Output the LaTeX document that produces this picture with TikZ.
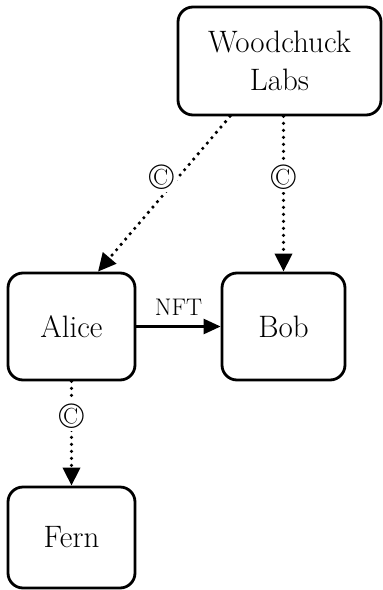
\documentclass[tikz,border=0pt]{standalone}
\usetikzlibrary{arrows.meta,calc}
\begin{document}
\begin{tikzpicture}[x=1pt,y=-1pt,
  box/.style={draw, line width=2.8pt, rounded corners=15pt, align=center,
    font=\fontsize{31}{38}\selectfont, inner sep=0pt},
  dotarrow/.style={line width=3.6pt, line cap=round, dash pattern=on 0pt off 7pt,
    -{Triangle[length=18pt,width=17pt]}},
  solidarrow/.style={line width=2.6pt, -{Triangle[length=17pt,width=15pt]}},
  clab/.style={fill=white, inner sep=3pt, font=\fontsize{36}{36}\selectfont},
  nlab/.style={font=\fontsize{24}{24}\selectfont, inner sep=1pt}]
\useasboundingbox (0,0) rectangle (383,590);
\node[box, minimum width=203pt, minimum height=108pt] (wl) at (279.5,61) {Woodchuck\\Labs};
\node[box, minimum width=127pt, minimum height=107pt] (alice) at (71.5,326.5) {Alice};
\node[box, minimum width=123pt, minimum height=107pt] (bob) at (283.5,326.5) {Bob};
\node[box, minimum width=127pt, minimum height=101pt] (fern) at (71.5,537.5) {Fern};
\draw[dotarrow] ([xshift=-49.5pt]wl.south) -- node[clab, pos=0.39, xshift=-17pt] (c1) {\textcopyright} ([xshift=26.5pt]alice.north);
\draw[dotarrow] (wl.south -| bob.north) -- node[clab, pos=0.39] (c2) {\textcopyright} (bob.north);
\draw[dotarrow] (alice.south) -- node[clab, pos=0.33] (c3) {\textcopyright} (fern.north);
\draw[solidarrow] (alice.east) -- node[nlab, above=9pt] (nft) {NFT} (bob.west);
\end{tikzpicture}
\end{document}
